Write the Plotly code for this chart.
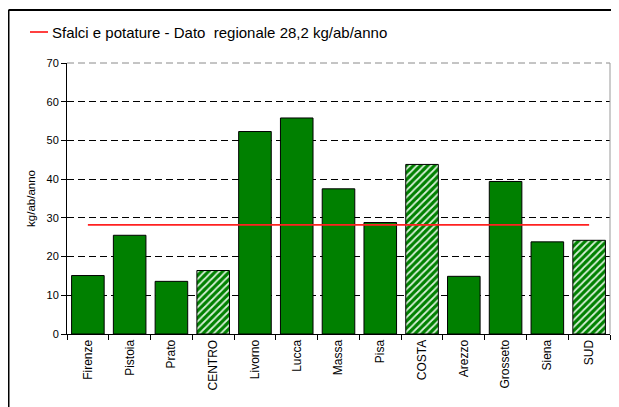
import plotly.graph_objects as go

categories = ["Firenze", "Pistoia", "Prato", "CENTRO", "Livorno", "Lucca", "Massa",
              "Pisa", "COSTA", "Arezzo", "Grosseto", "Siena", "SUD"]
values = [15.1, 25.5, 13.6, 16.4, 52.3, 55.8, 37.5, 28.8, 43.8, 14.9, 39.4, 23.8, 24.2]
aggregates = ["CENTRO", "COSTA", "SUD"]
regional_value = 28.2
legend_name = "Sfalci e potature - Dato  regionale 28,2 kg/ab/anno"
y_ticks = [0, 10, 20, 30, 40, 50, 60, 70]

GREEN = "#008000"
FONT = "Liberation Sans, Arial, sans-serif"

# plot area in figure pixels (page is offset by the 8px body margin)
L, T, W, H = 59, 55, 543, 271
FIG_W, FIG_H = 619, 407


def px(x):
    return (x - L) / W


def py(y):
    return (T + H - y) / H


shapes_pattern = ["/" if c in aggregates else "" for c in categories]

fig = go.Figure()
fig.add_trace(go.Bar(
    x=categories, y=values, width=0.78,
    marker=dict(color=GREEN, line=dict(color="black", width=1),
                pattern=dict(shape=shapes_pattern, bgcolor=GREEN, fgcolor="#d8f0d8",
                             size=5, solidity=0.35, fillmode="replace")),
    showlegend=False,
))
fig.add_trace(go.Scatter(
    x=categories, y=[regional_value] * len(categories), mode="lines",
    line=dict(color="#ff2020", width=1.6), name=legend_name, showlegend=False,
))

fig.update_layout(
    width=FIG_W, height=FIG_H,
    margin=dict(l=L, r=FIG_W - L - W, t=T, b=FIG_H - T - H, autoexpand=False),
    paper_bgcolor="white", plot_bgcolor="white",
    font=dict(family=FONT, color="black", size=11),
    bargap=0.22,
    xaxis=dict(type="category", showline=True, linecolor="black", linewidth=1,
               ticks="outside", tickson="boundaries", ticklen=5, tickcolor="black",
               tickangle=-90, tickfont=dict(size=12), showgrid=False),
    yaxis=dict(range=[0, 70], tickvals=y_ticks, showline=True, linecolor="black",
               linewidth=1, ticks="outside", ticklen=5, tickcolor="black",
               showgrid=True, gridcolor="black", griddash="7px,4px", gridwidth=1,
               zeroline=False, tickfont=dict(size=11),
               title=dict(text="kg/ab/anno", font=dict(size=11.5), standoff=8)),
    shapes=[
        # top border of plot area (dashed grey) and right border
        dict(type="line", xref="paper", yref="paper", x0=0, x1=1, y0=1, y1=1,
             line=dict(color="#8a8a8a", width=1, dash="7px,4px")),
        dict(type="line", xref="paper", yref="paper", x0=1, x1=1, y0=0, y1=1,
             line=dict(color="#999999", width=1)),
        # outer frame (top and left)
        dict(type="line", xref="paper", yref="paper", x0=px(0.5), x1=px(FIG_W + 5),
             y0=py(2), y1=py(2), line=dict(color="black", width=2)),
        dict(type="line", xref="paper", yref="paper", x0=px(0.75), x1=px(0.75),
             y0=py(2), y1=py(FIG_H + 5), line=dict(color="black", width=1.5)),
        # legend key
        dict(type="line", xref="paper", yref="paper", x0=px(22), x1=px(40),
             y0=py(24), y1=py(24), line=dict(color="red", width=1.5)),
    ],
    annotations=[
        dict(text=legend_name, xref="paper", yref="paper", x=px(42), y=py(24),
             xanchor="left", yanchor="middle", showarrow=False,
             font=dict(size=15, family=FONT, color="black")),
    ],
)

fig.write_html("out.html")
